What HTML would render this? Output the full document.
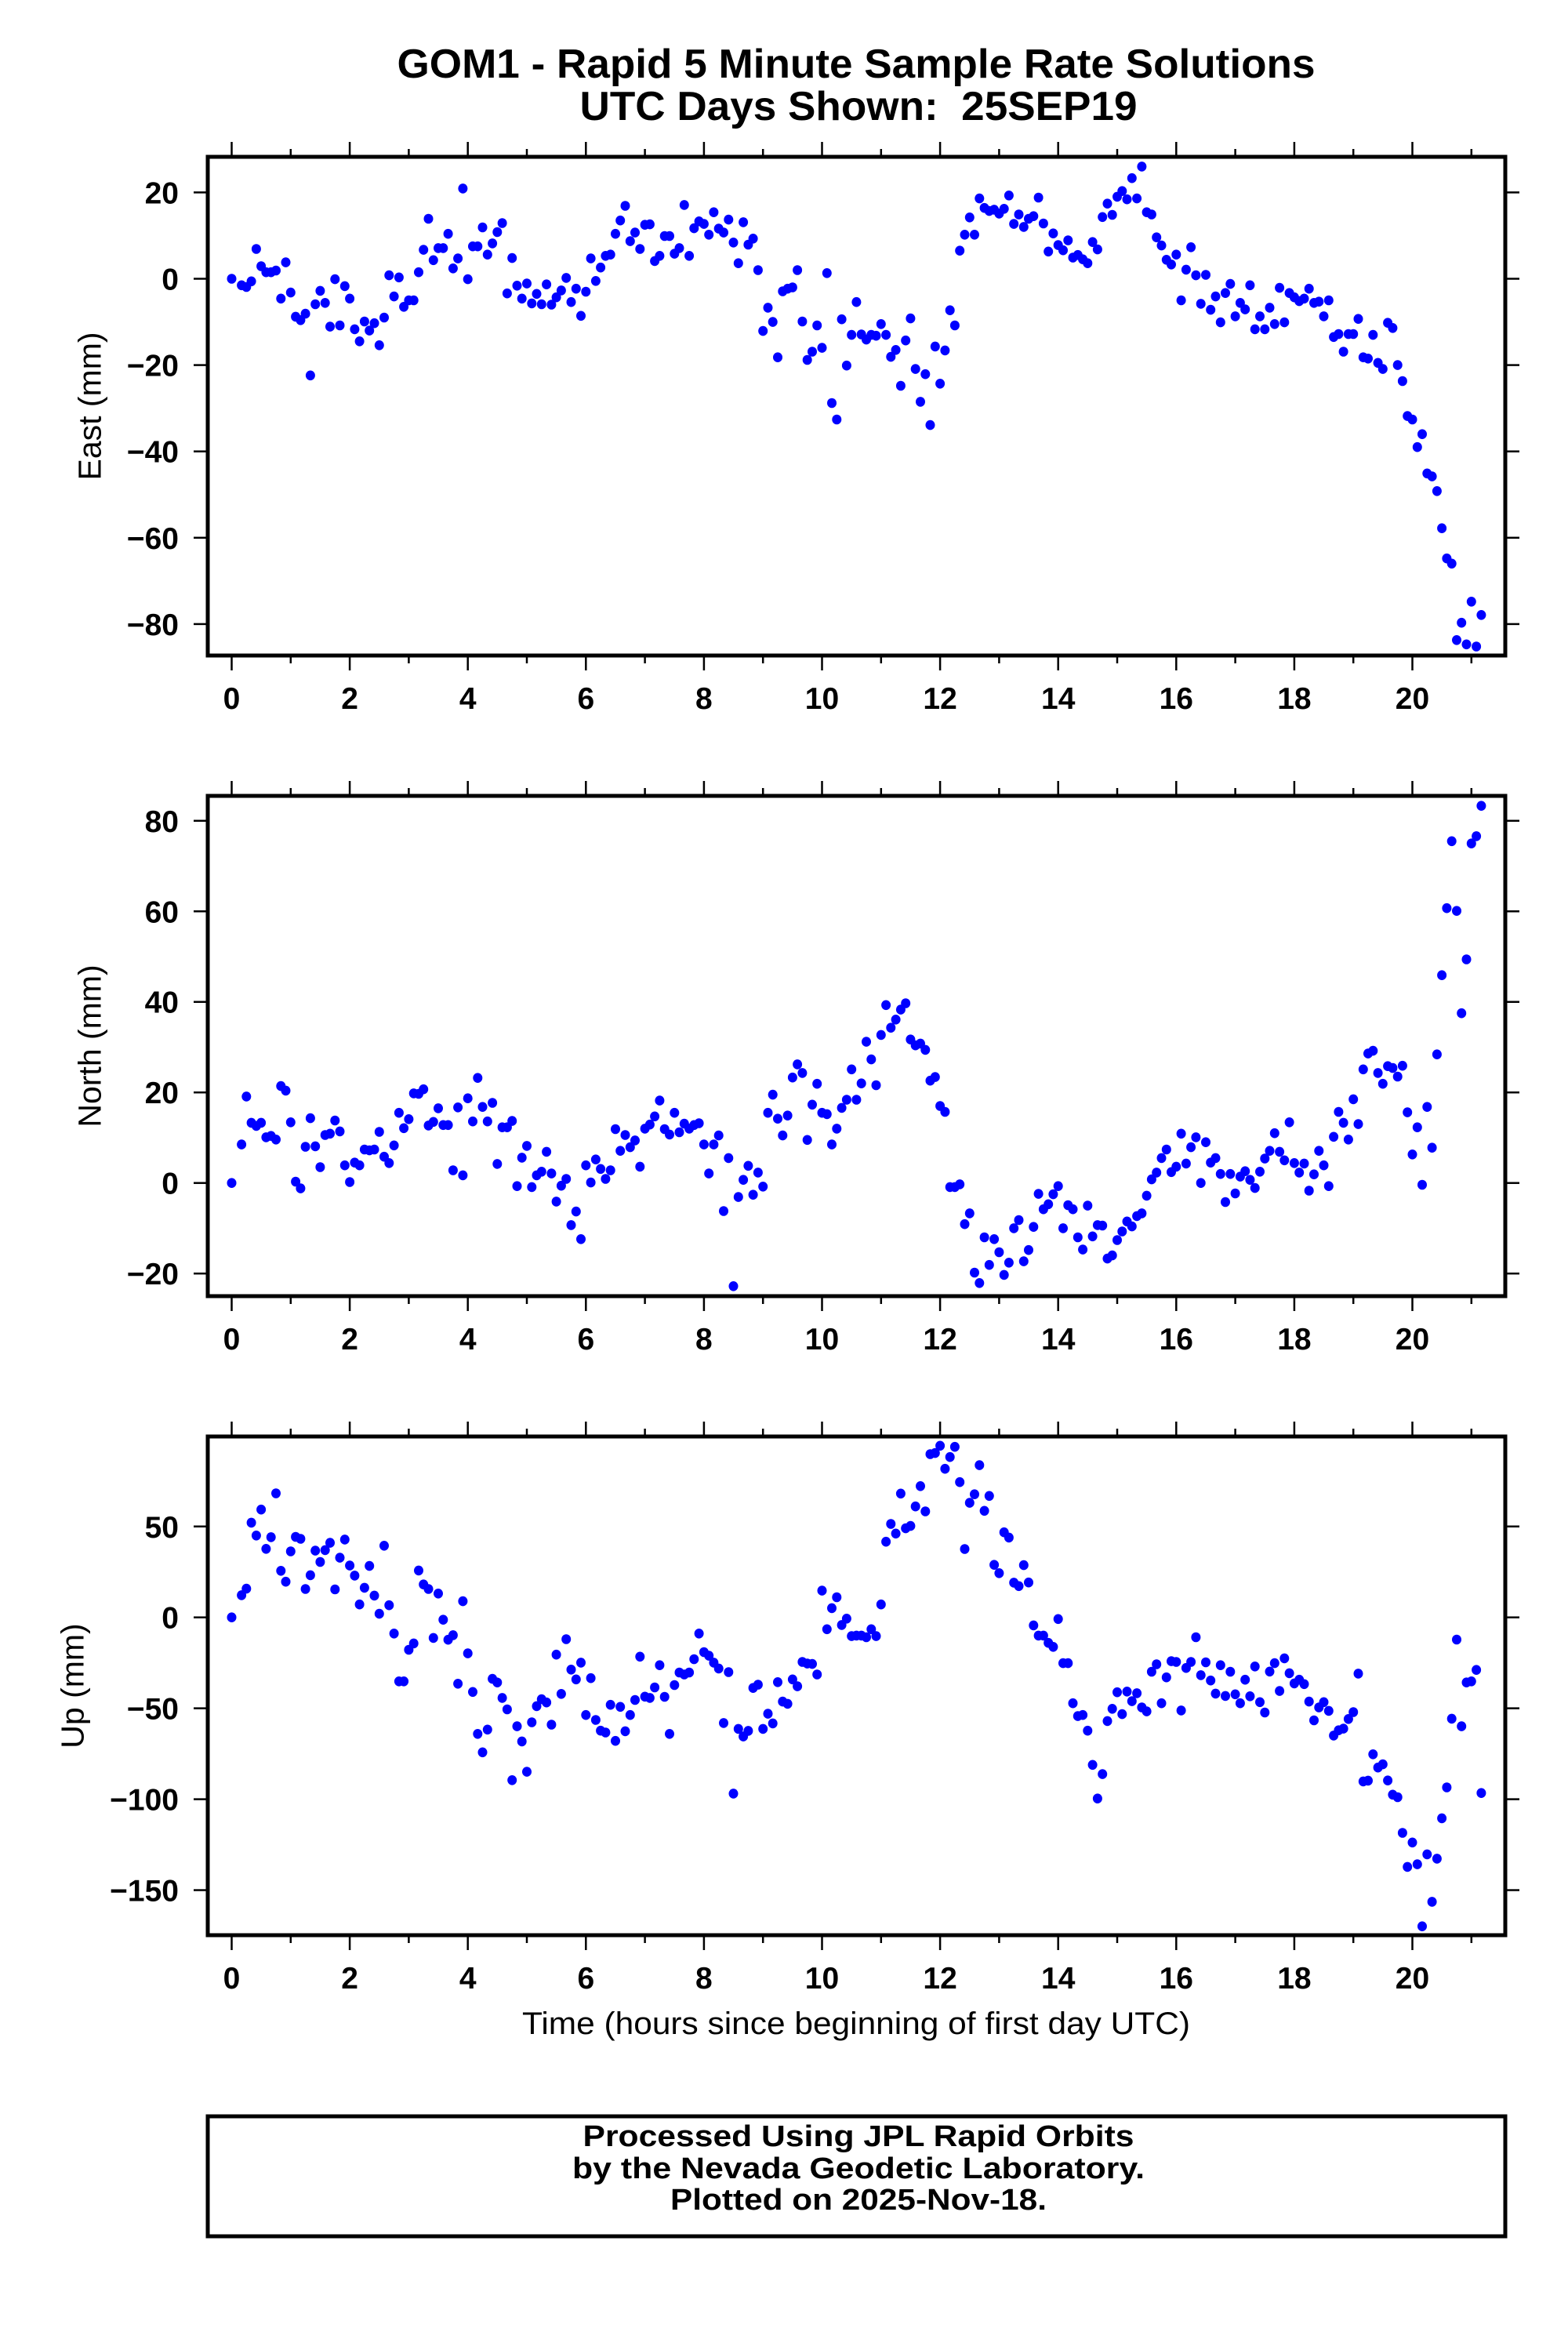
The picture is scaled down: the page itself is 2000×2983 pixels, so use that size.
<!DOCTYPE html>
<html><head><meta charset="utf-8"><title>GOM1 Rapid 5 Minute Solutions</title>
<style>
html,body{margin:0;padding:0;background:#fff;}
svg{display:block;}
text{font-family:"Liberation Sans",Arial,sans-serif;fill:#000;}
.b{font-weight:bold;}
</style></head>
<body>
<svg id="chart" xmlns="http://www.w3.org/2000/svg" width="2000" height="2983" viewBox="0 0 2000 2983">
<rect x="0" y="0" width="2000" height="2983" fill="#fff"/>
<text class="b" x="1092" y="99" font-size="52" text-anchor="middle" textLength="1171" lengthAdjust="spacingAndGlyphs">GOM1 - Rapid 5 Minute Sample Rate Solutions</text>
<text class="b" x="1095" y="153" font-size="52" text-anchor="middle" textLength="711" lengthAdjust="spacingAndGlyphs" xml:space="preserve">UTC Days Shown:  25SEP19</text>
<g id="plots"></g>
<text x="1092" y="2594" font-size="40" text-anchor="middle" textLength="852" lengthAdjust="spacingAndGlyphs">Time (hours since beginning of first day UTC)</text>
<rect x="265" y="2699" width="1655" height="153" fill="none" stroke="#000" stroke-width="5"/>
<text class="b" x="1095" y="2737" font-size="38" text-anchor="middle" textLength="703" lengthAdjust="spacingAndGlyphs">Processed Using JPL Rapid Orbits</text>
<text class="b" x="1095" y="2778" font-size="38" text-anchor="middle" textLength="730" lengthAdjust="spacingAndGlyphs">by the Nevada Geodetic Laboratory.</text>
<text class="b" x="1095" y="2818" font-size="38" text-anchor="middle" textLength="480" lengthAdjust="spacingAndGlyphs">Plotted on 2025-Nov-18.</text>
</svg>
<script>
// Sample interval: 5 minutes (value index i -> hour i/12)
const xTickHours = [0,1,2,3,4,5,6,7,8,9,10,11,12,13,14,15,16,17,18,19,20,21];
const xTickLabels = ["0","","2","","4","","6","","8","","10","","12","","14","","16","","18","","20",""];
const eastTicks = [20,0,-20,-40,-60,-80];
const northTicks = [80,60,40,20,0,-20];
const upTicks = [50,0,-50,-100,-150];
const eastValues = [0,null,-1.5,-1.9,-0.6,6.9,2.9,1.5,1.5,1.9,-4.6,3.8,-3.2,-8.8,-9.6,-8.1,-22.4,-5.9,-2.8,-5.6,-11.1,-0.1,-10.8,-1.7,-4.6,-11.7,-14.5,-9.9,-12.0,-10.3,-15.4,-9.0,0.8,-4.1,0.3,-6.5,-5.0,-5.0,1.5,6.7,13.9,4.3,7.1,7.1,10.4,2.4,4.7,20.9,-0.1,7.5,7.5,11.9,5.6,8.2,10.8,12.9,-3.4,4.8,-1.6,-4.6,-1.1,-5.7,-3.5,-5.9,-1.3,-6.0,-4.3,-2.7,0.2,-5.4,-2.3,-8.6,-3.0,4.7,-0.5,2.6,5.3,5.6,10.4,13.5,16.9,8.7,10.7,6.9,12.5,12.6,4.1,5.3,9.9,9.9,5.8,7.1,17.1,5.3,11.7,13.3,12.7,10.2,15.4,11.6,10.7,13.7,8.4,3.6,13.1,7.9,9.3,2.0,-12.1,-6.7,-10.0,-18.2,-2.9,-2.3,-2.0,2.0,-9.9,-18.8,-16.9,-10.8,-16.0,1.3,-28.8,-32.6,-9.4,-20.1,-13.0,-5.4,-12.9,-14.1,-13.0,-13.2,
-10.5,-13.0,-18.1,-16.5,-24.8,-14.3,-9.2,-20.9,-28.5,-22.1,-33.9,-15.7,-24.3,-16.6,-7.3,-10.8,6.5,10.2,14.2,10.2,18.6,16.4,15.7,16.0,15.1,16.2,19.3,12.7,14.9,12.0,13.9,14.5,18.8,12.8,6.3,10.5,7.8,6.6,8.9,4.9,5.5,4.5,3.6,8.5,6.8,14.3,17.4,14.8,19.0,20.3,18.4,23.3,18.6,26.0,15.4,14.9,9.6,7.7,4.4,3.3,5.6,-5.0,2.1,7.3,0.8,-5.8,0.9,-7.2,-4.1,-10.1,-3.3,-1.2,-8.7,-5.6,-7.1,-1.5,-11.7,-8.7,-11.7,-6.7,-10.5,-2.1,-10.1,-3.3,-4.3,-5.2,-4.6,-2.3,-5.6,-5.3,-8.7,-5.0,-13.5,-12.8,-16.9,-12.8,-12.8,-9.3,-18.2,-18.5,-13.0,-19.5,-20.9,-10.2,-11.4,-20.0,-23.7,-31.8,-32.6,-39.0,-36.0,-45.1,-45.8,-49.2,-57.8,-64.8,-66.0,-83.7,-79.7,-84.7,-74.8,-85.2,-77.9];
const northValues = [0,null,8.5,19.1,13.3,12.6,13.3,10.1,10.4,9.6,21.4,20.4,13.4,0.3,-1.2,8.0,14.3,8.1,3.5,10.6,10.9,13.8,11.4,3.9,0.2,4.5,3.9,7.4,7.2,7.4,11.3,5.8,4.4,8.3,15.5,12.1,14.1,19.8,19.7,20.7,12.7,13.5,16.5,12.8,12.8,2.8,16.7,1.7,18.7,13.6,23.2,16.8,13.6,17.7,4.2,12.3,12.3,13.7,-0.7,5.6,8.2,-0.9,1.7,2.5,6.9,2.1,-4.1,-0.6,0.9,-9.3,-6.3,-12.4,3.9,0.1,5.2,3.1,0.9,2.8,11.9,7.1,10.6,7.9,9.4,3.6,12.0,12.9,14.7,18.2,11.9,10.7,15.5,11.2,13.1,12.0,12.8,13.2,8.5,2.1,8.5,10.5,-6.2,5.5,-22.8,-3.1,0.7,3.8,-2.6,2.3,-0.8,15.5,19.5,14.2,10.5,14.9,23.3,26.2,24.3,9.5,17.3,21.9,15.5,15.2,8.5,12.0,16.6,18.4,25.1,18.4,22.0,31.2,27.3,21.6,
32.7,39.3,34.3,36.1,38.3,39.7,31.7,30.4,30.8,29.4,22.6,23.4,17.0,15.7,-0.9,-0.9,-0.3,-9.1,-6.7,-19.8,-22.1,-12.0,-18.1,-12.4,-15.3,-20.3,-17.6,-10.0,-8.2,-17.3,-14.8,-9.7,-2.4,-5.8,-4.7,-2.5,-0.7,-10.0,-4.9,-5.8,-12.0,-14.7,-5.0,-11.8,-9.3,-9.4,-16.7,-16.0,-12.6,-10.7,-8.5,-9.6,-7.3,-6.7,-2.8,0.8,2.3,5.5,7.4,2.4,3.6,10.9,4.3,7.9,10.1,0,9.0,4.5,5.5,2.0,-4.2,2.0,-2.3,1.4,2.6,0.7,-1.1,2.5,5.4,7.1,11.0,6.9,5.0,13.4,4.4,2.3,4.3,-1.7,1.9,7.1,3.9,-0.7,10.2,15.7,13.3,9.6,18.5,13.0,25.1,28.6,29.2,24.3,21.9,25.8,25.4,23.5,25.9,15.6,6.3,12.3,-0.4,16.8,7.8,28.4,45.9,60.7,75.5,60.1,37.5,49.4,75.0,76.6,83.3];
const upValues = [0,null,12.2,15.8,52.1,45.0,59.3,37.7,44.1,68.2,25.6,19.6,36.3,44.3,43.2,15.6,23.2,36.7,30.5,37.0,41.0,15.4,32.8,42.8,28.5,23.0,7.1,16.3,28.3,12.0,2.0,39.4,6.7,-8.9,-35.2,-35.2,-17.8,-14.3,25.8,18.1,15.6,-11.3,13.1,-1.3,-12.3,-9.8,-36.5,8.9,-19.8,-41.0,-64.1,-74.2,-61.7,-33.8,-35.8,-44.3,-50.6,-89.5,-59.9,-68.2,-84.9,-57.7,-48.8,-45.0,-46.8,-59.0,-20.5,-42.1,-12.0,-28.7,-34.1,-24.9,-53.7,-33.4,-56.4,-62.3,-63.3,-48.1,-67.9,-49.2,-62.6,-53.7,-45.4,-21.6,-43.6,-44.3,-38.5,-26.3,-43.7,-64.1,-37.2,-30.3,-31.4,-30.3,-23.0,-8.9,-19.1,-21.1,-24.9,-28.1,-58.1,-30.1,-96.9,-61.3,-65.5,-62.4,-38.8,-37.0,-61.3,-53.0,-58.3,-35.6,-46.3,-47.5,-34.1,-37.9,-24.5,-25.4,-25.6,-31.4,14.7,-6.5,5.1,11.1,-4.2,-0.7,-10.3,-10.0,-10.0,-10.9,-6.5,-10.3,
7.1,41.6,51.4,46.1,68.1,49.0,50.3,61.0,72.2,58.3,89.8,90.4,94.4,81.7,88.2,93.8,74.4,37.6,63.0,67.7,83.7,58.6,66.8,28.9,24.3,46.8,43.9,19.1,17.2,28.7,19.2,-4.4,-10.0,-10.0,-14.0,-16.2,-0.9,-25.2,-25.2,-47.2,-54.3,-53.7,-62.3,-81.1,-99.6,-86.2,-57.0,-50.3,-41.2,-53.2,-40.8,-46.1,-41.7,-49.5,-51.7,-29.9,-25.8,-47.2,-33.0,-24.1,-24.5,-51.2,-27.8,-24.5,-10.9,-31.8,-24.7,-34.7,-41.9,-26.3,-43.2,-29.9,-42.3,-47.2,-34.3,-43.4,-27.0,-46.6,-52.3,-29.8,-25.2,-40.5,-22.5,-30.7,-36.3,-34.3,-36.7,-46.3,-56.6,-49.5,-46.6,-51.4,-65.0,-62.1,-61.2,-55.9,-52.1,-30.9,-90.2,-89.8,-75.3,-82.6,-80.8,-89.7,-97.5,-98.9,-118.5,-137.2,-123.8,-135.8,-169.9,-130.3,-156.4,-132.7,-110.5,-93.5,-55.7,-12.2,-59.9,-35.8,-35.2,-28.9,-96.6];

const NS = "http://www.w3.org/2000/svg";
const plots = document.getElementById('plots');
const X0 = 265, X1 = 1920;
function xScale(h){ return 295.5 + h*75.3; }
function mk(tag, attrs, parent){
  const e = document.createElementNS(NS, tag);
  for (const k in attrs) e.setAttribute(k, attrs[k]);
  parent.appendChild(e);
  return e;
}
function makeY(zeroPx, pxPerUnit){ return v => zeroPx - v*pxPerUnit; }

const panels = [
  {key:'east', top:200, bottom:836, y:makeY(355.5,5.505), ticks:eastTicks, vals:eastValues, title:'East (mm)', tx:114},
  {key:'north', top:1015, bottom:1653, y:makeY(1508.7,5.774), ticks:northTicks, vals:northValues, title:'North (mm)', tx:114},
  {key:'up', top:1832, bottom:2468, y:makeY(2062.7,2.319), ticks:upTicks, vals:upValues, title:'Up (mm)', tx:92}
];

panels.forEach(p => {
  const g = mk('g', {}, plots);
  
  
  // points
  const dots = mk('g', {fill:'#0000ff'}, g);
  
  
  p.vals.forEach((v, i) => {
    if (v === null) return;
    const c = mk('ellipse', {cx:xScale(i/12).toFixed(1), cy:p.y(v).toFixed(1), rx:6, ry:6.3}, dots);
    
    
  });
  // frame
  const fr = mk('rect', {x:X0, y:p.top, width:X1-X0, height:p.bottom-p.top, fill:'none', stroke:'#000', 'stroke-width':5}, g);
  
  
  // x ticks top & bottom
  xTickHours.forEach((h, k) => {
    const x = xScale(h);
    const len = xTickLabels[k] !== '' ? 17 : 8;
    const t1 = mk('line', {x1:x, x2:x, y1:p.top-2, y2:p.top-2-len, stroke:'#000', 'stroke-width':2.5}, g);
    
    
    const t2 = mk('line', {x1:x, x2:x, y1:p.bottom+2, y2:p.bottom+2+len, stroke:'#000', 'stroke-width':2.5}, g);
    
    
    if (xTickLabels[k] !== '') {
      const tl = mk('text', {x:x, y:p.bottom+68, 'font-size':39, 'text-anchor':'middle', 'font-weight':'bold'}, g);
      tl.textContent = xTickLabels[k];
      
      
    }
  });
  // y ticks left & right
  p.ticks.forEach(v => {
    const y = p.y(v);
    const a = mk('line', {x1:X0-2, x2:X0-18, y1:y, y2:y, stroke:'#000', 'stroke-width':2.5}, g);
    
    
    const b = mk('line', {x1:X1+2, x2:X1+18, y1:y, y2:y, stroke:'#000', 'stroke-width':2.5}, g);
    
    
    const tl = mk('text', {x:228, y:y+14, 'font-size':39, 'text-anchor':'end', 'font-weight':'bold'}, g);
    tl.textContent = v < 0 ? '\u2212' + Math.abs(v) : String(v);
    
    
  });
  // y title
  const cy = (p.top + p.bottom)/2;
  const yt = mk('text', {x:p.tx, y:cy, 'font-size':41, 'text-anchor':'middle', transform:'rotate(-90 '+p.tx+' '+cy+')', dy:'0.35em'}, g);
  yt.textContent = p.title;
  
  
});
</script>
</body></html>
